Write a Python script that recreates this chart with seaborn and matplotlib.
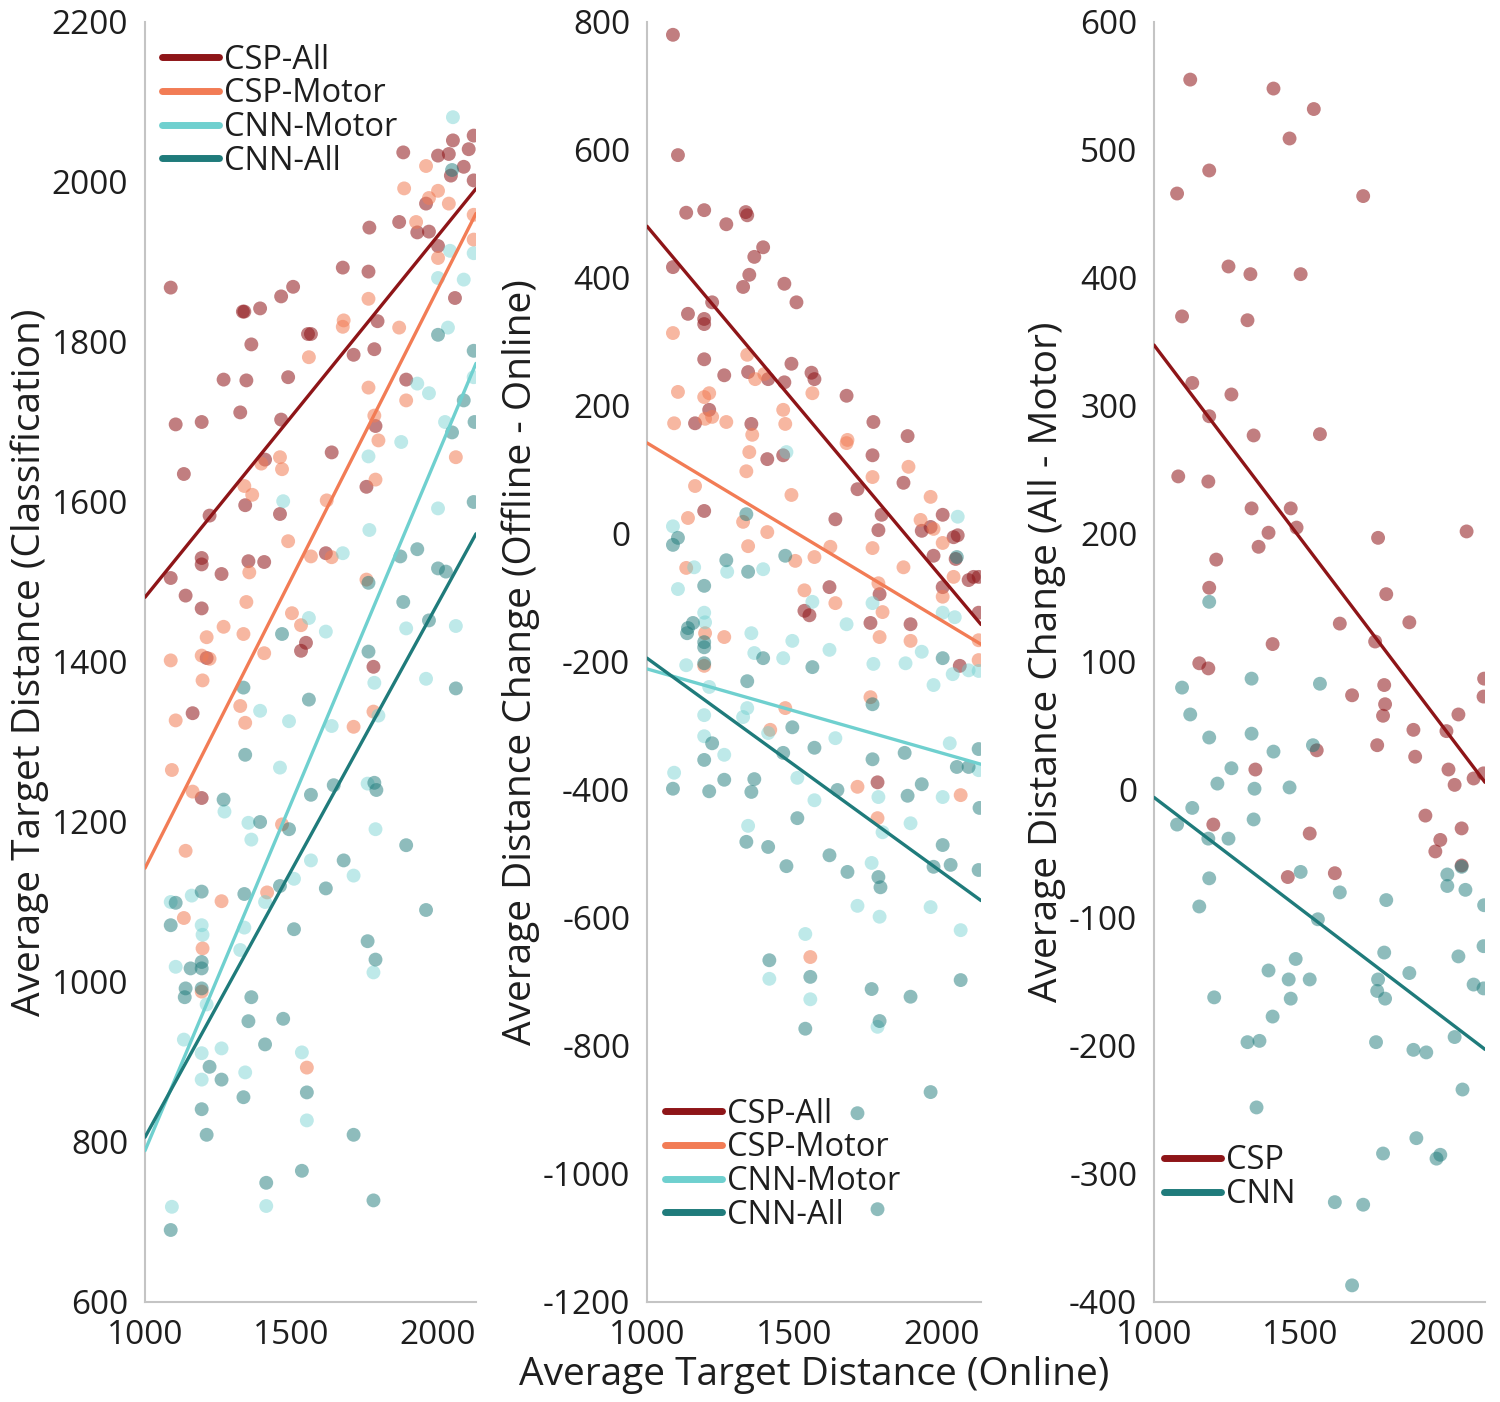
import matplotlib

matplotlib.use("Agg")

import matplotlib.pyplot as plt
import numpy as np
import pandas as pd
import seaborn as sns

# Panel 2 values: online distance (x) and offline - online change (y)
csp_all_x = [1088, 1105, 1133, 1194, 1269, 1335, 1340, 1394, 1364, 1347, 1326, 1466, 1507, 1088, 1221,
             1139, 1194, 1194, 1194, 1262, 1343, 1411, 1466, 1490, 1558, 1568, 1677, 1768, 1884, 1211,
             1163, 1354, 1408, 1462, 1194, 1639, 1765, 1870, 1714, 1796, 1785, 2003, 1932, 1962, 2040,
             2054, 1972, 2047, 2108, 2125, 2091, 2003, 1619, 1789, 1534, 1551, 1758, 1894, 2125, 2061,
             1782]
csp_all_change = [780, 592, 502, 506, 484, 503, 498, 448, 433, 405, 386, 391, 362, 417, 362,
                  344, 336, 328, 273, 248, 253, 242, 237, 266, 252, 242, 216, 175, 153, 194,
                  173, 172, 117, 123, 36, 23, 123, 80, 70, 30, 6, 30, 5, 11, -5,
                  -2, -34, -39, -67, -67, -72, -83, -83, -94, -120, -127, -139, -141, -123, -206,
                  -388]

csp_motor_x = [1088, 1105, 1194, 1211, 1092, 1197, 1221, 1269, 1340, 1367, 1398, 1462, 1469, 1561, 1357,
               1680, 1347, 1337, 1163, 1490, 1677, 1765, 1887, 1139, 1326, 1408, 1343, 1622, 1765, 1870,
               1503, 1568, 1133, 1962, 1928, 1972, 2003, 2040, 2003, 1785, 1534, 1639, 1799, 1197, 1262,
               1789, 1894, 2125, 2125, 1194, 1758, 1469, 1418, 1714, 2064, 1782, 1554]
csp_motor_change = [314, 222, 214, 220, 173, 180, 183, 175, 280, 242, 250, 194, 172, 220, 155,
                    147, 128, 98, 75, 61, 142, 89, 105, 25, 19, 3, -19, -20, -22, -52,
                    -42, -36, -53, 58, 22, 8, -14, -67, -98, -77, -88, -108, -122, -155, -161,
                    -161, -167, -166, -197, -206, -255, -272, -306, -395, -408, -444, -661]

cnn_motor_x = [1088, 1160, 1272, 1394, 1105, 1194, 1197, 1561, 1765, 1677, 1493, 1354, 1619, 1364, 1462,
               1133, 1768, 1877, 1932, 2003, 2044, 1972, 2037, 2091, 2125, 1211, 1340, 1326, 1194, 1194,
               1411, 1262, 1639, 1092, 1510, 1568, 1785, 2003, 1894, 1799, 1343, 2027, 2125, 1762, 1473,
               2054, 1714, 1789, 1962, 2064, 1537, 1415, 1554, 1782]
cnn_motor_change = [12, -52, -59, -55, -86, -123, -138, -106, -108, -141, -167, -155, -181, -186, -194,
                    -205, -203, -202, -184, -123, -130, -236, -219, -213, -214, -239, -272, -286, -283, -316,
                    -311, -345, -319, -373, -381, -416, -411, -411, -452, -466, -456, -327, -369, -514, 128,
                    27, -581, -598, -583, -619, -625, -695, -727, -770]

cnn_all_x = [1105, 1088, 1337, 1469, 1269, 1343, 1194, 1139, 1156, 1136, 1194, 1194, 1194, 1394, 1561,
             2003, 1340, 2051, 1765, 1493, 1221, 1194, 1462, 1568, 1765, 1874, 2051, 2091, 2125, 1088,
             1211, 1262, 1364, 1354, 1646, 1932, 1884, 2128, 1510, 1337, 1411, 1619, 2003, 1473, 1680,
             1785, 1972, 2030, 2125, 1792, 1415, 1554, 1762, 1894, 2064, 1537, 1789, 1962, 1714, 1782]
cnn_all_change = [-6, -17, 31, -34, -41, -59, -81, -147, -139, -155, -169, -177, -202, -194, -208,
                  -194, -230, -36, -266, -302, -327, -353, -342, -334, -352, -342, -364, -364, -336, -398,
                  -402, -384, -383, -403, -400, -391, -409, -428, -444, -481, -489, -502, -486, -519, -528,
                  -536, -520, -517, -525, -552, -666, -692, -711, -723, -697, -773, -761, -872, -905, -1055]

# Panel 3 values: all-channel minus motor-channel distance
csp_x = [1124, 1409, 1547, 1464, 1189, 1079, 1716, 1255, 1330, 1502, 1096, 1320, 1131, 1265, 1189,
         1341, 1568, 1083, 1186, 1334, 1468, 1488, 1392, 1358, 1213, 1189, 1767, 2070, 1795, 1636,
         1874, 1757, 1406, 1155, 1186, 2130, 2128, 1788, 1678, 1791, 1784, 2042, 1888, 2001, 1764,
         1557, 1894, 1347, 2008, 2029, 2128, 2094, 1929, 1203, 1533, 2053, 1980, 1963, 2053, 1458,
         1619]
csp_diff = [555, 548, 532, 509, 484, 466, 464, 409, 403, 403, 370, 367, 318, 309, 292,
            277, 278, 245, 241, 220, 220, 205, 201, 190, 180, 158, 197, 202, 153, 130,
            131, 116, 114, 99, 95, 87, 73, 82, 74, 67, 58, 59, 47, 46, 35,
            31, 26, 16, 16, 4, 13, 9, -20, -27, -34, -30, -39, -48, -59, -68,
            -65]

cnn_x = [1189, 1096, 1124, 1189, 1334, 1568, 1334, 1409, 1265, 1217, 1344, 1464, 1544, 1131, 1079,
         1341, 1255, 1186, 1189, 1502, 2004, 2053, 1155, 1636, 1795, 1561, 2004, 2066, 2130, 2128,
         2042, 1788, 1874, 1767, 1764, 1791, 2094, 2128, 1485, 1392, 1461, 1533, 1206, 1468, 1406,
         1320, 1361, 1760, 1888, 1932, 2029, 2056, 1351, 1898, 1784, 1967, 1980, 1619, 1716, 1678]
cnn_diff = [147, 80, 59, 41, 87, 83, 44, 30, 17, 5, 1, 2, 35, -14, -27,
            -23, -38, -38, -69, -64, -66, -60, -91, -80, -86, -101, -75, -78, -90, -122,
            -130, -127, -143, -148, -157, -163, -152, -155, -132, -141, -148, -148, -162, -163, -177,
            -197, -196, -197, -203, -205, -193, -234, -248, -272, -284, -288, -285, -322, -324, -387]

series_names = ["CSP-All", "CSP-Motor", "CNN-Motor", "CNN-All"]
series_colors = ["#8e1518", "#f27c55", "#6fd0cf", "#1f7b7b"]
point_alpha = [0.55, 0.55, 0.45, 0.5]

change = pd.concat([
    pd.DataFrame({"online": csp_all_x, "change": csp_all_change, "model": "CSP-All"}),
    pd.DataFrame({"online": csp_motor_x, "change": csp_motor_change, "model": "CSP-Motor"}),
    pd.DataFrame({"online": cnn_motor_x, "change": cnn_motor_change, "model": "CNN-Motor"}),
    pd.DataFrame({"online": cnn_all_x, "change": cnn_all_change, "model": "CNN-All"}),
], ignore_index=True)
change["offline"] = change["change"] + change["online"]

diff = pd.concat([
    pd.DataFrame({"online": csp_x, "diff": csp_diff, "model": "CSP"}),
    pd.DataFrame({"online": cnn_x, "diff": cnn_diff, "model": "CNN"}),
], ignore_index=True)

sns.set_theme(style="white")
plt.rcParams["font.family"] = ["Open Sans", "DejaVu Sans"]
plt.rcParams["axes.unicode_minus"] = False

fig = plt.figure(figsize=(15, 14.02), dpi=100)
bottom, height = 100 / 1402, 1280 / 1402
ax1 = fig.add_axes([145 / 1500, bottom, 331 / 1500, height])
ax2 = fig.add_axes([647 / 1500, bottom, 334 / 1500, height])
ax3 = fig.add_axes([1154 / 1500, bottom, 331 / 1500, height])

XMAX = 2133


def style_axis(ax, ylim, yticks, ylabel):
    ax.set_xlim(1000, XMAX)
    ax.set_ylim(*ylim)
    ax.set_xticks([1000, 1500, 2000])
    ax.set_yticks(yticks)
    for side in ["top", "right"]:
        ax.spines[side].set_visible(False)
    for side in ["left", "bottom"]:
        ax.spines[side].set_color("#c4c4c4")
        ax.spines[side].set_linewidth(1.5)
    ax.tick_params(direction="in", length=12, width=1.5, color="#a8a8a8", labelsize=24,
                   labelcolor="#1e1e1e", pad=12)
    ax.set_xlabel("")
    ax.set_ylabel(ylabel, fontsize=28, color="#1e1e1e", labelpad=2)


def draw_panel(ax, data, yname, names, colors, alphas):
    ax.set_xlim(1000, XMAX)
    for name, color, alpha in zip(names, colors, alphas):
        sub = data[data["model"] == name]
        sns.scatterplot(data=sub, x="online", y=yname, color=color, alpha=alpha, s=100,
                        edgecolor="none", ax=ax, zorder=2)
    for name, color in zip(names, colors):
        sub = data[data["model"] == name]
        sns.regplot(data=sub, x="online", y=yname, scatter=False, ci=None, truncate=False,
                    color=color, line_kws={"linewidth": 2.4, "zorder": 3}, label=name, ax=ax)


draw_panel(ax1, change, "offline", series_names, series_colors, point_alpha)
style_axis(ax1, (600, 2200), np.arange(600, 2201, 200), "Average Target Distance (Classification)")

draw_panel(ax2, change, "change", series_names, series_colors, point_alpha)
style_axis(ax2, (-1200, 800), np.arange(-1200, 801, 200), "Average Distance Change (Offline - Online)")

draw_panel(ax3, diff, "diff", ["CSP", "CNN"], [series_colors[0], series_colors[3]], [0.55, 0.5])
style_axis(ax3, (-400, 600), np.arange(-400, 601, 100), "Average Distance Change (All - Motor)")

legend_style = dict(frameon=False, fontsize=23.5, handlelength=1.75, handletextpad=0.15,
                    labelspacing=0.02, borderaxespad=0.0, borderpad=0.0)
leg1 = ax1.legend(loc="upper left", bbox_to_anchor=(0.05, 0.983), **legend_style)
leg2 = ax2.legend(loc="lower left", bbox_to_anchor=(0.053, 0.055), **legend_style)
leg3 = ax3.legend(loc="lower left", bbox_to_anchor=(0.03, 0.071), **legend_style)
for leg in (leg1, leg2, leg3):
    for line in leg.get_lines():
        line.set_linewidth(5)
    for text in leg.get_texts():
        text.set_color("#1e1e1e")

fig.text(0.543, 0.006, "Average Target Distance (Online)", ha="center", va="bottom",
         fontsize=28, color="#1e1e1e")

fig.savefig("out.png", dpi=100, facecolor="white")
